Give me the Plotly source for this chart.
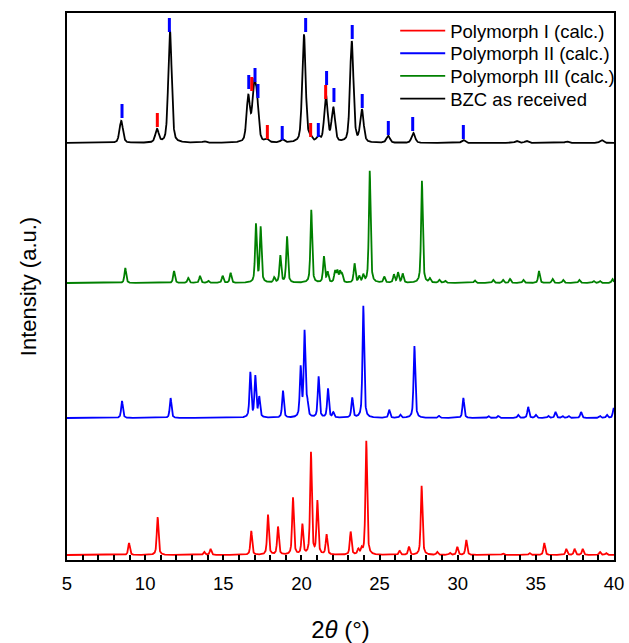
import numpy as np
import plotly.graph_objects as go

# ---------------- data ----------------
two_theta_range = [5, 40]

# Polymorph I (calc.) peaks: position (deg), intensity (a.u.)
poly1_pos = [8.97, 10.80, 13.78, 14.19, 16.79, 17.86, 18.50, 19.46, 20.06, 20.61, 21.02, 21.61,
             23.15, 23.64, 23.85, 24.15, 26.28, 26.88, 27.69, 28.69, 29.5, 29.97, 30.55, 32.9,
             34.6, 35.54, 36.95, 37.48, 38.0, 39.1, 39.5]
poly1_int = [12, 38, 3, 6, 24, 40, 28, 57, 30, 102, 53, 20,
             23, 5, 5, 114, 4, 8, 69, 3, 2, 8, 15, 1.5,
             2, 12, 6, 6, 6, 3, 2]

# Polymorph II (calc.)
poly2_pos = [8.52, 11.63, 16.73, 17.05, 17.30, 18.82, 19.95, 20.20, 20.37, 21.10, 21.70, 22.04,
             23.25, 23.96, 25.62, 26.33, 27.23, 28.8, 30.36, 31.96, 32.6, 33.87, 34.51, 35.0,
             35.8, 36.26, 36.7, 37.1, 37.89, 39.1, 39.55, 39.98]
poly2_int = [17, 20, 45, 41, 20, 27, 49, 85, 14, 41, 29, 5,
             20, 112, 8, 3, 72, 2, 20, 2, 2, 3, 11, 3,
             2, 6, 2, 2, 6, 2, 3, 10]

# Polymorph III (calc.)
poly3_pos = [8.73, 11.85, 12.76, 13.51, 14.04, 14.96, 15.47, 17.09, 17.39, 18.26, 18.65, 19.08,
             20.63, 21.44, 21.68, 22.15, 22.3, 22.47, 22.6, 23.40, 23.7, 23.96, 24.37, 25.30,
             25.92, 26.18, 26.48, 27.71, 28.22, 28.82, 29.2, 31.1, 32.27, 32.9, 33.35, 34.2,
             35.2, 36.07, 36.75, 37.78, 38.7, 39.1, 39.9]
poly3_int = [15, 12, 5, 7, 2, 7, 10, 58, 55, 5, 27, 46,
             73, 26, 10, 11, 11, 10, 8, 19, 6, 7, 112, 6,
             8, 10, 9, 102, 4, 3, 2, 2.5, 3, 3, 4, 3,
             12, 4, 3, 3, 2, 2, 4]

# BZC as received (measured)
bzc_pos = [8.47, 10.76, 11.59, 13.78, 16.60, 16.96, 17.15, 17.77, 18.78, 20.16, 20.55, 21.08,
           21.57, 22.04, 23.22, 23.87, 25.55, 27.16, 30.36, 33.77, 34.4, 36.97, 39.2]
bzc_int = [22, 13, 112, 1.5, 45, 50, 38, 3, 3, 108, 4, 5,
           46, 34, 101, 32, 7, 10, 3, 2, 2, 1.5, 3]

# reflection markers above the measured pattern: position, height above BZC baseline
mark1_pos = [10.78, 16.82, 17.82, 20.59, 21.55]
mark1_h = [15, 51, 3, 5, 43]
mark2_pos = [8.52, 11.55, 16.63, 17.03, 17.22, 18.77, 20.27, 21.08, 21.61, 22.08, 23.25,
             23.89, 25.56, 27.12, 30.36]
mark2_h = [24, 110, 53, 60, 44, 2, 110, 5, 57, 40, 103, 34, 7, 11, 3]

series_names = ["Polymorph I (calc.)", "Polymorph II (calc.)", "Polymorph III (calc.)", "BZC as received"]
x_ticks = [5, 10, 15, 20, 25, 30, 35, 40]

# ---------------- styling ----------------
colors = ["#ff0000", "#0000ff", "#008000", "#000000"]
offsets = [5, 142, 277, 417]          # vertical stacking offsets
widths = [0.13, 0.13, 0.13, 0.26]     # peak FWHM (deg)
etas = [0.6, 0.6, 0.6, 0.4]
MARK_LEN = 14
FONT = "Liberation Sans, Arial, sans-serif"
legend_keys = ["legend", "legend2", "legend3", "legend4"]
legend_y = [1.0018, 0.9603, 0.9188, 0.8775]

x = np.linspace(two_theta_range[0], two_theta_range[1], 3501)


def profile(pos, inten, w, eta):
    y = np.zeros_like(x)
    for c, h in zip(pos, inten):
        d = (x - c) / w
        L = 1.0 / (1.0 + 4.0 * d * d)
        G = np.exp(-4.0 * np.log(2.0) * d * d)
        y += h * (eta * L + (1 - eta) * G)
    return y


pats = [(poly1_pos, poly1_int), (poly2_pos, poly2_int), (poly3_pos, poly3_int), (bzc_pos, bzc_int)]

fig = go.Figure()
for i, (p, h) in enumerate(pats):
    y = profile(p, h, widths[i], etas[i]) + offsets[i]
    fig.add_trace(go.Scatter(x=x, y=y, mode="lines", name=series_names[i],
                             legend=legend_keys[i],
                             line=dict(color=colors[i], width=1.8)))

# markers
for mpos, mh, col in [(mark2_pos, mark2_h, colors[1]), (mark1_pos, mark1_h, colors[0])]:
    xs, ys = [], []
    for c, h in zip(mpos, mh):
        b = offsets[3] + h + 1
        xs += [c, c, None]
        ys += [b, b + MARK_LEN, None]
    fig.add_trace(go.Scatter(x=xs, y=ys, mode="lines", showlegend=False,
                             line=dict(color=col, width=3), hoverinfo="skip"))

legends = {}
for k, yy in zip(legend_keys, legend_y):
    legends[k] = dict(x=0.600, y=yy, xanchor="left", yanchor="top",
                      bgcolor="rgba(0,0,0,0)", font=dict(size=18.5), itemwidth=45)

fig.update_layout(
    width=629, height=643,
    margin=dict(l=67, r=15, t=13, b=83, autoexpand=False),
    paper_bgcolor="white", plot_bgcolor="white",
    font=dict(family=FONT, size=18, color="black"),
    showlegend=True,
    **legends,
)
fig.update_xaxes(range=two_theta_range, tickvals=x_ticks, ticks="inside", ticklen=5,
                 tickwidth=1.5, tickcolor="black",
                 minor=dict(dtick=1, ticks="inside", ticklen=5, tickwidth=1.5, tickcolor="black"),
                 showline=True, linewidth=2, linecolor="black", mirror=True,
                 showgrid=False, zeroline=False, automargin=False,
                 tickfont=dict(size=18.5), ticklabelstandoff=6,
                 title=dict(text="2<i>θ</i> (°)", font=dict(size=24), standoff=30))
fig.update_yaxes(range=[0, 547], showticklabels=False, ticks="",
                 showline=True, linewidth=2, linecolor="black", mirror=True,
                 showgrid=False, zeroline=False, automargin=False,
                 title=dict(text="Intensity (a.u.)", font=dict(size=22), standoff=22))

fig.write_html("out.html", config={"displayModeBar": False},
               post_script="document.body.style.margin='0px';document.body.style.overflow='hidden';")
